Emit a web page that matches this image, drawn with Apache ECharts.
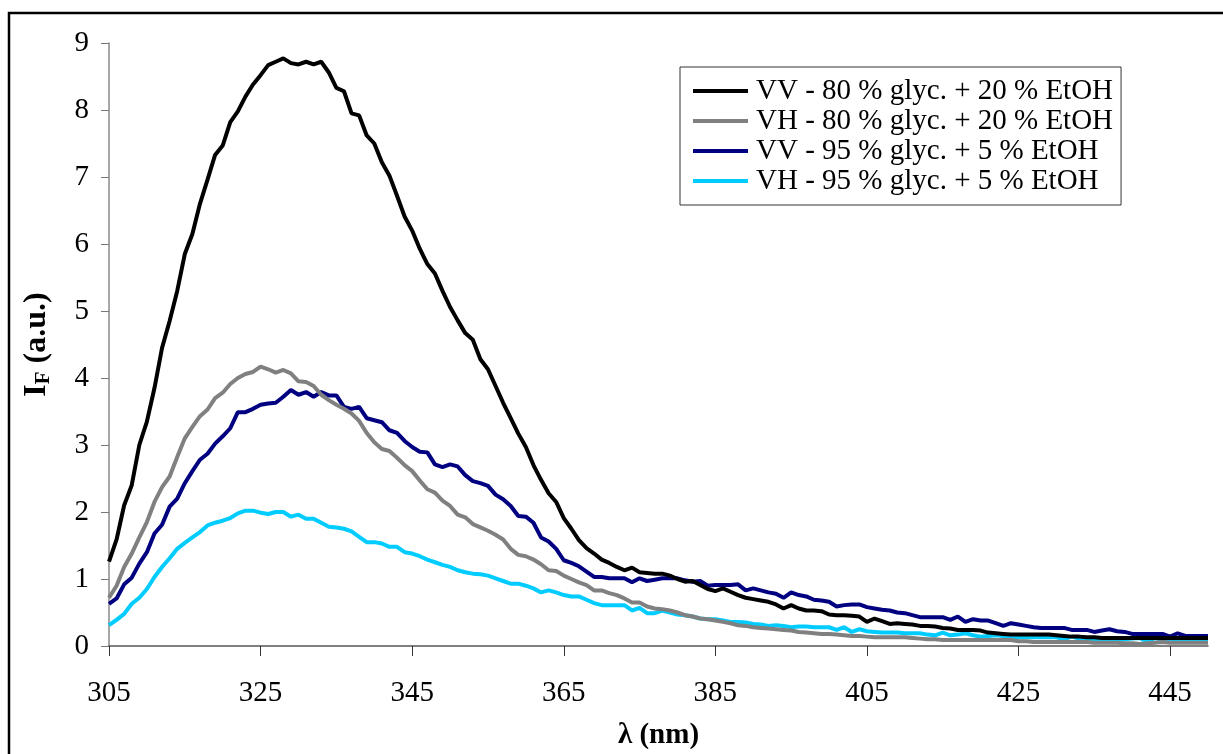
<!DOCTYPE html>
<html>
<head>
<meta charset="utf-8">
<script src="https://cdn.jsdelivr.net/npm/echarts@6/dist/echarts.min.js"></script>
<style>html,body{margin:0;padding:0;background:#fff;}#c{width:1223px;height:754px;}</style>
</head>
<body>
<div id="c"></div>
<script>
// wavelengths 305..450 nm, 1 nm step
var wavelengths = [];
for (var w = 305; w <= 450; w++) wavelengths.push(String(w));

var seriesNames = [
  'VV - 80 % glyc. + 20 % EtOH',
  'VH - 80 % glyc. + 20 % EtOH',
  'VV - 95 % glyc. + 5 % EtOH',
  'VH - 95 % glyc. + 5 % EtOH'
];

var vv80 = [1.26,1.59,2.10,2.40,3.00,3.35,3.85,4.45,4.85,5.30,5.85,6.15,6.60,6.96,7.33,7.47,7.82,7.98,8.20,8.38,
  8.52,8.67,8.72,8.77,8.70,8.68,8.72,8.68,8.72,8.56,8.33,8.28,7.95,7.92,7.62,7.50,7.22,7.02,6.72,6.41,
  6.20,5.93,5.70,5.56,5.30,5.06,4.86,4.67,4.57,4.28,4.13,3.88,3.63,3.40,3.17,2.97,2.70,2.48,2.28,2.15,
  1.91,1.75,1.58,1.46,1.38,1.29,1.24,1.18,1.13,1.17,1.10,1.09,1.08,1.08,1.05,1.00,0.96,0.97,0.91,0.85,
  0.82,0.86,0.81,0.76,0.72,0.70,0.68,0.66,0.62,0.56,0.61,0.56,0.53,0.53,0.52,0.47,0.46,0.46,0.45,0.44,
  0.36,0.41,0.37,0.33,0.34,0.33,0.32,0.30,0.30,0.29,0.27,0.26,0.24,0.24,0.24,0.23,0.20,0.19,0.18,0.17,
  0.17,0.17,0.17,0.17,0.17,0.16,0.15,0.14,0.14,0.13,0.13,0.12,0.12,0.12,0.12,0.12,0.12,0.12,0.12,0.12,
  0.12,0.12,0.12,0.12,0.12,0.12];

var vh80 = [0.72,0.90,1.18,1.38,1.62,1.85,2.15,2.37,2.53,2.82,3.10,3.27,3.43,3.53,3.70,3.78,3.91,4.00,4.06,4.09,
  4.17,4.13,4.08,4.12,4.07,3.95,3.94,3.88,3.75,3.67,3.60,3.54,3.47,3.36,3.18,3.04,2.94,2.91,2.81,2.70,
  2.61,2.47,2.34,2.29,2.17,2.09,1.96,1.92,1.82,1.77,1.72,1.66,1.59,1.45,1.36,1.34,1.29,1.22,1.13,1.12,
  1.05,1.00,0.95,0.91,0.83,0.83,0.79,0.76,0.71,0.65,0.65,0.59,0.56,0.55,0.53,0.50,0.46,0.44,0.41,0.40,
  0.38,0.36,0.34,0.31,0.30,0.28,0.27,0.26,0.25,0.24,0.23,0.21,0.20,0.19,0.18,0.18,0.17,0.16,0.15,0.15,
  0.14,0.13,0.13,0.13,0.13,0.13,0.12,0.11,0.10,0.10,0.09,0.09,0.09,0.09,0.09,0.09,0.09,0.09,0.09,0.09,
  0.07,0.07,0.06,0.06,0.06,0.06,0.06,0.06,0.06,0.06,0.05,0.05,0.05,0.05,0.04,0.04,0.03,0.04,0.05,0.06,
  0.05,0.05,0.05,0.05,0.05,0.05];

var vv95 = [0.63,0.71,0.92,1.02,1.23,1.40,1.68,1.81,2.08,2.20,2.43,2.61,2.78,2.87,3.02,3.13,3.25,3.49,3.49,3.54,
  3.60,3.62,3.63,3.72,3.82,3.75,3.79,3.72,3.79,3.74,3.74,3.57,3.54,3.57,3.40,3.37,3.34,3.22,3.18,3.06,
  2.97,2.90,2.89,2.71,2.67,2.71,2.68,2.55,2.46,2.43,2.39,2.26,2.19,2.09,1.94,1.93,1.84,1.62,1.56,1.45,
  1.28,1.24,1.19,1.11,1.03,1.03,1.01,1.01,1.01,0.95,1.01,0.97,0.99,1.01,1.01,1.01,0.98,0.96,0.97,0.90,
  0.91,0.91,0.91,0.92,0.83,0.86,0.83,0.80,0.78,0.72,0.80,0.76,0.74,0.69,0.68,0.66,0.59,0.61,0.62,0.62,
  0.58,0.56,0.54,0.53,0.50,0.49,0.46,0.43,0.43,0.43,0.43,0.39,0.44,0.36,0.40,0.38,0.38,0.34,0.30,0.34,
  0.32,0.30,0.28,0.27,0.27,0.27,0.27,0.24,0.24,0.24,0.21,0.23,0.25,0.22,0.21,0.18,0.18,0.18,0.18,0.18,
  0.14,0.19,0.15,0.15,0.15,0.15];

var vh95 = [0.31,0.39,0.48,0.63,0.72,0.85,1.03,1.18,1.31,1.45,1.54,1.62,1.70,1.80,1.84,1.87,1.91,1.98,2.02,2.02,
  1.99,1.97,2.00,2.00,1.93,1.96,1.90,1.90,1.84,1.78,1.77,1.75,1.71,1.63,1.55,1.55,1.53,1.48,1.48,1.40,
  1.38,1.34,1.29,1.25,1.21,1.18,1.13,1.10,1.08,1.07,1.05,1.01,0.97,0.93,0.93,0.90,0.86,0.80,0.83,0.80,
  0.76,0.74,0.74,0.69,0.64,0.61,0.61,0.61,0.61,0.53,0.57,0.49,0.49,0.53,0.50,0.47,0.46,0.44,0.41,0.40,
  0.40,0.38,0.36,0.36,0.35,0.33,0.32,0.30,0.31,0.30,0.28,0.29,0.29,0.28,0.28,0.28,0.24,0.28,0.21,0.25,
  0.22,0.21,0.20,0.20,0.20,0.19,0.19,0.19,0.17,0.16,0.20,0.16,0.17,0.19,0.16,0.14,0.15,0.16,0.15,0.13,
  0.13,0.13,0.13,0.13,0.13,0.13,0.10,0.14,0.11,0.10,0.10,0.10,0.10,0.10,0.10,0.11,0.12,0.06,0.12,0.09,
  0.09,0.09,0.09,0.08,0.08,0.08];

var yTicks = [0,1,2,3,4,5,6,7,8,9];

var colors = ['#000000', '#808080', '#000080', '#00CCFF'];
var seriesData = [vv80, vh80, vv95, vh95];

var FONT = '"Liberation Serif", "Times New Roman", serif';
var FS = 29;

var chart = echarts.init(document.getElementById('c'), null, {renderer: 'canvas'});
chart.setOption({
  animation: false,
  backgroundColor: '#ffffff',
  textStyle: {fontFamily: FONT},
  graphic: [{
    type: 'rect',
    shape: {x: 9, y: 13, width: 1400, height: 900},
    style: {fill: 'none', stroke: '#000', lineWidth: 2.5},
    silent: true
  }],
  grid: {left: 109, right: 15, top: 43, bottom: 108, containLabel: false, outerBoundsMode: 'none'},
  legend: {
    orient: 'vertical',
    left: 680,
    top: 67,
    data: seriesNames,
    icon: 'rect',
    itemWidth: 55,
    itemHeight: 4,
    itemGap: 0,
    padding: [9, 8, 9, 13],
    borderColor: '#333',
    borderWidth: 1,
    backgroundColor: '#fff',
    textStyle: {fontFamily: FONT, fontSize: FS, color: '#000', lineHeight: 30, height: 30, padding: [0, 0, 0, 3]}
  },
  xAxis: {
    type: 'category',
    data: wavelengths,
    boundaryGap: false,
    name: 'λ (nm)',
    nameLocation: 'middle',
    nameGap: 75,
    nameTextStyle: {fontFamily: FONT, fontSize: FS, fontWeight: 'bold', color: '#000'},
    axisLine: {lineStyle: {color: '#555', width: 1.5}},
    axisTick: {show: true, interval: 19, length: 10, inside: false, lineStyle: {color: '#333', width: 1}},
    axisLabel: {interval: 19, margin: 33, fontFamily: FONT, fontSize: FS, color: '#000'},
    splitLine: {show: false}
  },
  yAxis: {
    type: 'value',
    min: 0,
    max: 9,
    interval: 1,
    name: '{b|I}{s|F}{b| (a.u.)}',
    nameLocation: 'middle',
    nameGap: 55,
    nameRotate: 90,
    nameTextStyle: {
      rich: {
        b: {fontFamily: FONT, fontSize: 32, fontWeight: 'bold', color: '#000'},
        s: {fontFamily: FONT, fontSize: 21, fontWeight: 'bold', color: '#000', padding: [13, 0, 0, 0]}
      }
    },
    axisLine: {show: true, lineStyle: {color: '#888', width: 1.5}},
    axisTick: {show: true, length: 8, lineStyle: {color: '#777'}},
    axisLabel: {margin: 20, fontFamily: FONT, fontSize: FS, color: '#000',
      formatter: function (v) { return yTicks.indexOf(v) >= 0 ? String(v) : ''; }},
    splitLine: {show: false}
  },
  series: seriesNames.map(function (n, i) {
    return {
      name: n,
      type: 'line',
      data: seriesData[i],
      symbol: 'none',
      showSymbol: false,
      smooth: false,
      lineStyle: {color: colors[i], width: 4},
      itemStyle: {color: colors[i]},
      z: 10 - i
    };
  })
});
</script>
</body>
</html>
